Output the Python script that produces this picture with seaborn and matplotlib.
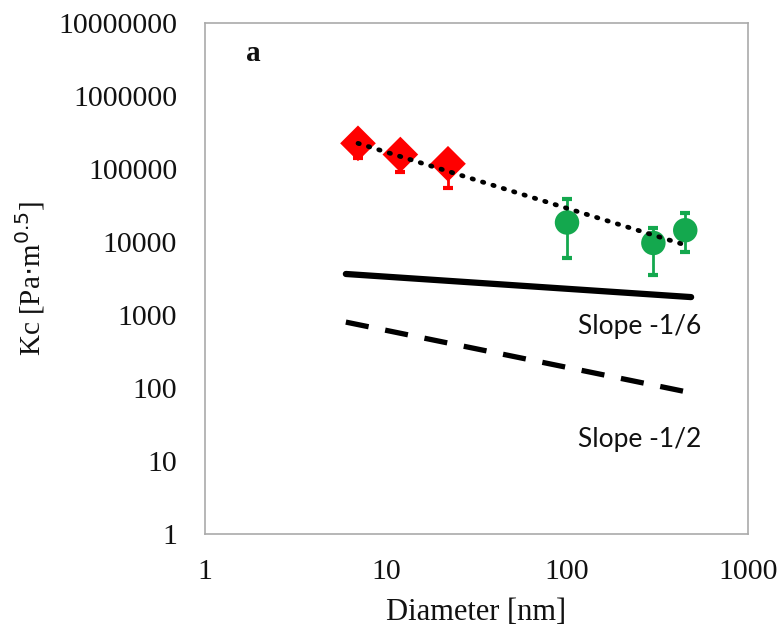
import numpy as np
import pandas as pd
import matplotlib
matplotlib.use("Agg")
import matplotlib.pyplot as plt
import matplotlib.ticker as mticker
import seaborn as sns

# measured toughness, small particles (red diamonds)
d_small = [7, 12, 22]
kc_small = [225000, 158000, 118000]
kc_small_lo = [142000, 90000, 55000]
kc_small_hi = [260000, 185000, 140000]

# measured toughness, large particles (green circles)
d_large = [100, 300, 450]
kc_large = [18500, 9700, 14500]
kc_large_lo = [6000, 3500, 7300]
kc_large_hi = [38500, 15500, 25000]

# power-law fit through all points (dotted)
d_fit = [7, 470]
kc_fit = [225000, 8800]

# reference slopes
d_ref = [6, 485]
kc_slope6 = [3650, 1760]
kc_slope2 = [800, 86]

sns.set_style("white")
plt.rcParams["font.family"] = ["Liberation Serif", "DejaVu Serif"]
plt.rcParams["text.color"] = "#111111"
plt.rcParams["axes.labelcolor"] = "#111111"

fig = plt.figure(figsize=(7.84, 6.29), dpi=100)
ax = fig.add_axes([0.2615, 0.151, 0.6926, 0.8124])

red = "#ff0000"
green = "#14a84e"

ax.errorbar(d_small, kc_small,
            yerr=[np.array(kc_small) - np.array(kc_small_lo), np.array(kc_small_hi) - np.array(kc_small)],
            fmt="none", ecolor=red, elinewidth=2, capsize=3.5, capthick=3, zorder=2)
ax.errorbar(d_large, kc_large,
            yerr=[np.array(kc_large) - np.array(kc_large_lo), np.array(kc_large_hi) - np.array(kc_large)],
            fmt="none", ecolor=green, elinewidth=2, capsize=3.5, capthick=3, zorder=2)

sns.scatterplot(x=d_small, y=kc_small, marker="D", s=330, color=red, edgecolor="none", ax=ax, zorder=3)
sns.scatterplot(x=d_large, y=kc_large, marker="o", s=310, color=green, edgecolor="none", ax=ax, zorder=3)

sns.lineplot(x=d_fit, y=kc_fit, color="black", ax=ax, zorder=4, linewidth=3.4,
             linestyle=(0, (0.3, 2.0)))
ax.lines[-1].set_dash_capstyle("round")
sns.lineplot(x=d_ref, y=kc_slope6, color="black", ax=ax, linewidth=4.5, zorder=4)
sns.lineplot(x=d_ref, y=kc_slope2, color="black", ax=ax, linewidth=3.8, zorder=4,
             linestyle=(0, (4.4, 3.2)))

ax.set_xscale("log")
ax.set_yscale("log")
ax.set_xlim(1, 1000)
ax.set_ylim(1, 1e7)

ax.xaxis.set_major_locator(mticker.FixedLocator([1, 10, 100, 1000]))
ax.xaxis.set_minor_locator(mticker.NullLocator())
ax.xaxis.set_major_formatter(mticker.FuncFormatter(lambda v, p: "%d" % v))
ax.yaxis.set_major_locator(mticker.FixedLocator([10 ** k for k in range(8)]))
ax.yaxis.set_minor_locator(mticker.LogLocator(base=10, subs=np.arange(2, 10)))
ax.yaxis.set_major_formatter(mticker.FuncFormatter(lambda v, p: "%d" % v))
ax.yaxis.set_minor_formatter(mticker.NullFormatter())

ax.tick_params(axis="x", which="major", direction="in", length=8, width=1, color="#999999",
               labelsize=21.5, pad=18, labelcolor="#111111")
ax.tick_params(axis="y", which="major", direction="in", length=7, width=1, color="#999999",
               labelsize=21.5, pad=20, labelcolor="#111111")
ax.tick_params(axis="y", which="minor", direction="in", length=7, width=1, color="#999999")

for sp in ax.spines.values():
    sp.set_color("#aaaaaa")
    sp.set_linewidth(1.2)

ax.set_xlabel("Diameter [nm]", fontsize=22, labelpad=9)
ax.set_ylabel("Kc [Pa$\\cdot$m$^{0.5}$]", fontsize=21, labelpad=8)

ax.text(0.075, 0.94, "a", transform=ax.transAxes, fontsize=21, fontweight="bold", va="center")
ax.text(0.687, 0.407, "Slope -1/6", transform=ax.transAxes, fontsize=19, family="Lato", va="center")
ax.text(0.687, 0.184, "Slope -1/2", transform=ax.transAxes, fontsize=19, family="Lato", va="center")

fig.savefig("out.png", dpi=100)
